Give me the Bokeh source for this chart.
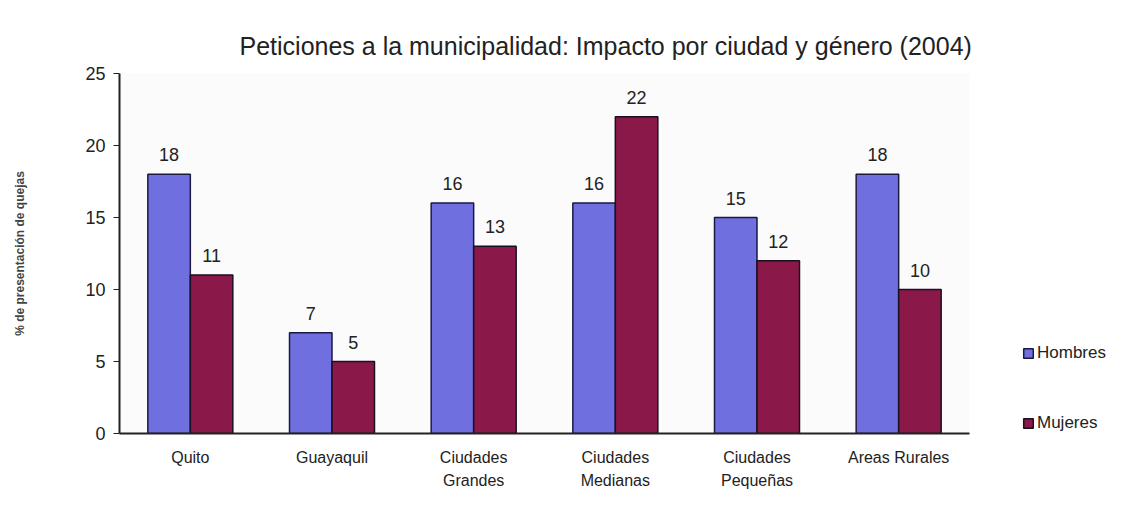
from bokeh.plotting import figure
from bokeh.models import ColumnDataSource, FactorRange, Legend, LegendItem, LabelSet
from bokeh.core.properties import value
from bokeh.transform import dodge
from bokeh.embed import file_html
from bokeh.resources import INLINE

categories = ["Quito", "Guayaquil", "Ciudades\nGrandes", "Ciudades\nMedianas", "Ciudades\nPequeñas", "Areas Rurales"]
hombres = [18, 7, 16, 16, 15, 18]
mujeres = [11, 5, 13, 22, 12, 10]
y_ticks = [0, 5, 10, 15, 20, 25]

FONT = "Liberation Sans"
BLUE = "#6f6fe0"
MAROON = "#8a1848"

src = ColumnDataSource(dict(cat=categories, h=hombres, m=mujeres,
                            hl=[str(v) for v in hombres], ml=[str(v) for v in mujeres]))

p = figure(frame_width=850, frame_height=360, x_range=FactorRange(factors=categories), y_range=(0, 25),
           output_backend="svg", toolbar_location=None,
           min_border_left=119, min_border_right=150, min_border_top=73, min_border_bottom=64,
           title="Peticiones a la municipalidad: Impacto por ciudad y género (2004)")

p.title.text_font = FONT
p.title.text_font_size = "25px"
p.title.text_font_style = "normal"
p.title.text_color = "#222222"
p.title.align = "left"
p.title.offset = 120
p.title.standoff = 28

p.outline_line_color = None
p.xgrid.grid_line_color = None
p.ygrid.grid_line_color = None
p.background_fill_color = "#fbfbfb"

rh = p.vbar(x=dodge("cat", -0.15, range=p.x_range), top="h", width=0.3, source=src,
            fill_color=BLUE, line_color="#1a1a40", line_width=1.5)
rm = p.vbar(x=dodge("cat", 0.15, range=p.x_range), top="m", width=0.3, source=src,
            fill_color=MAROON, line_color="#1a1020", line_width=1.5)

for col, lab, dx in (("h", "hl", -0.15), ("m", "ml", 0.15)):
    ls = LabelSet(x=dodge("cat", dx, range=p.x_range), y=col, text=lab, source=src,
                  text_align="center", text_baseline="bottom", y_offset=13,
                  text_font=value(FONT), text_font_size=value("18px"), text_color="#222222")
    p.add_layout(ls)

p.yaxis.ticker = y_ticks
p.yaxis.axis_label = "% de presentación de quejas"
p.yaxis.axis_label_text_font = FONT
p.yaxis.axis_label_text_font_size = "12px"
p.yaxis.axis_label_text_font_style = "bold"
p.yaxis.axis_label_standoff = 55
p.yaxis.major_label_text_font = FONT
p.yaxis.major_label_text_font_size = "18px"
p.yaxis.major_label_text_color = "#222222"
p.yaxis.minor_tick_line_color = None
p.yaxis.major_tick_out = 6
p.yaxis.major_tick_in = 0
p.yaxis.axis_line_width = 2
p.yaxis.axis_line_color = "#222222"
p.yaxis.major_tick_line_color = "#222222"
p.yaxis.major_label_standoff = 8

p.xaxis.axis_line_width = 2
p.xaxis.axis_line_color = "#222222"
p.xaxis.major_tick_line_color = None
p.xaxis.major_label_text_font = FONT
p.xaxis.major_label_text_font_size = "16px"
p.xaxis.major_label_text_color = "#222222"
p.xaxis.major_label_text_line_height = 1.4
p.xaxis.major_label_standoff = 9

legend = Legend(items=[LegendItem(label="Hombres", renderers=[rh]),
                       LegendItem(label="Mujeres", renderers=[rm])],
                location=(53, 0), orientation="vertical",
                label_text_font=FONT, label_text_font_size="17px", label_text_color="#222222",
                glyph_width=12, glyph_height=12, label_height=20, spacing=50,
                padding=0, margin=0, border_line_color=None, label_standoff=3,
                background_fill_alpha=0)
p.add_layout(legend, "right")

open("out.html", "w").write(file_html(p, INLINE))
